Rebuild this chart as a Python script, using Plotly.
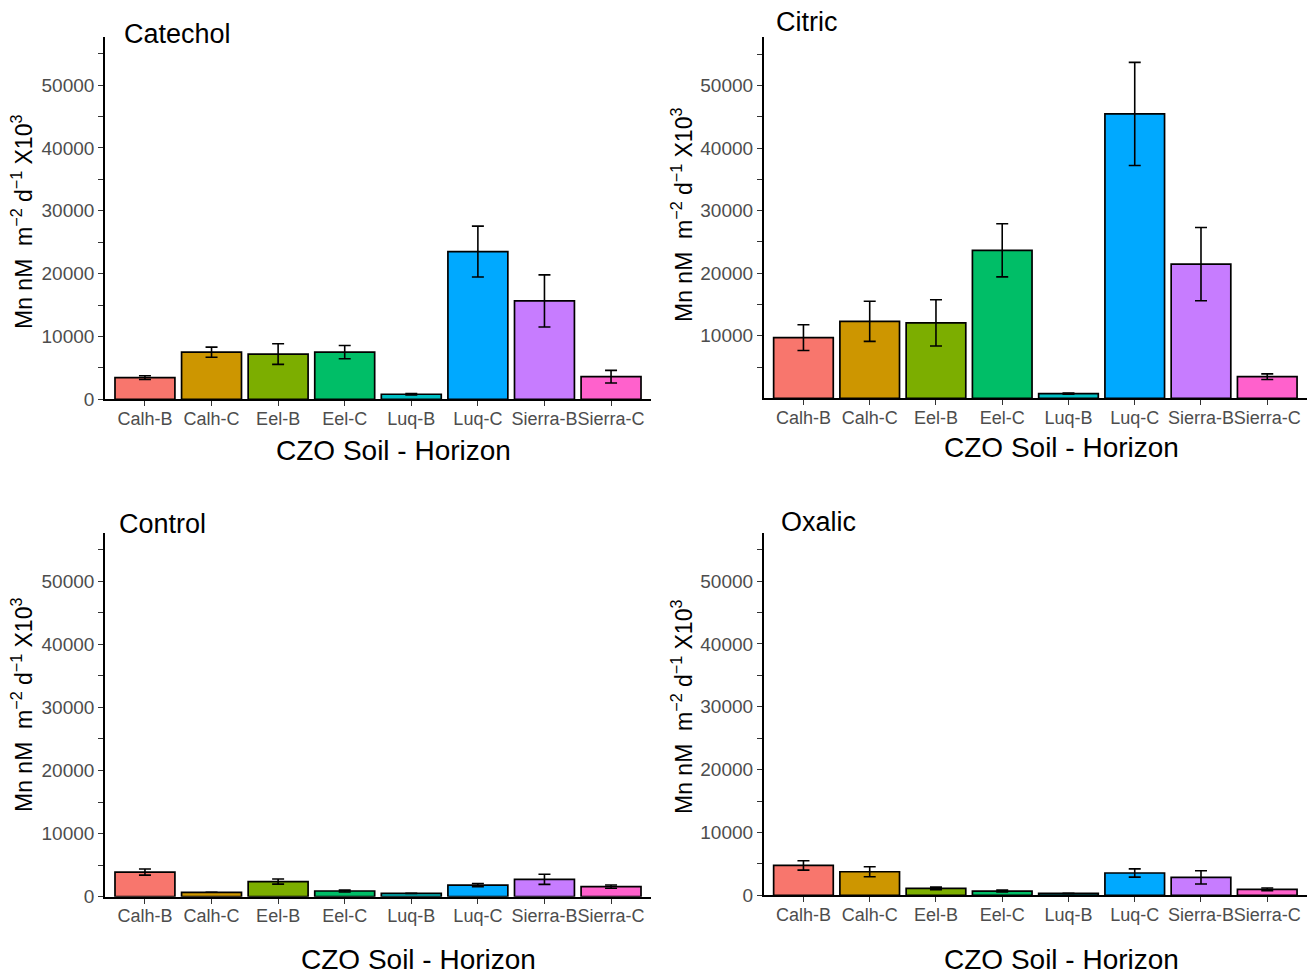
import plotly.graph_objects as go

categories = ["Calh-B", "Calh-C", "Eel-B", "Eel-C", "Luq-B", "Luq-C", "Sierra-B", "Sierra-C"]
colors = ["#F8766D", "#CD9600", "#7CAE00", "#00BE67", "#00BFC4", "#00A9FF", "#C77CFF", "#FF61CC"]

catechol_mean = [3450, 7500, 7200, 7500, 800, 23500, 15650, 3600]
catechol_err = [300, 800, 1650, 1050, 100, 4050, 4150, 1000]

citric_mean = [9700, 12300, 12050, 23650, 750, 45450, 21450, 3450]
citric_err = [2050, 3200, 3700, 4250, 80, 8250, 5850, 450]

control_mean = [3900, 700, 2400, 900, 530, 1850, 2750, 1600]
control_err = [480, 0, 400, 150, 0, 250, 800, 250]

oxalic_mean = [4750, 3750, 1100, 680, 300, 3550, 2850, 950]
oxalic_err = [750, 800, 200, 150, 0, 650, 1050, 220]

panel_titles = ["Catechol", "Citric", "Control", "Oxalic"]
x_title = "CZO Soil - Horizon"
y_title = "Mn nM\u00a0\u00a0m<sup>\u22122</sup> d<sup>\u22121</sup>\u00a0X10<sup>3</sup>"

W, H = 1307, 975
FONT = "Liberation Sans, Arial, sans-serif"

panels = [
    (catechol_mean, catechol_err, (105, 651), (36.7, 399.3), True),
    (citric_mean, citric_err, (763.7, 1307), (37.3, 398.3), False),
    (control_mean, control_err, (105, 651), (532.7, 896.7), True),
    (oxalic_mean, oxalic_err, (763.7, 1307), (532.7, 895.3), True),
]

fig = go.Figure()
for i, (mean, err, (x0, x1), (ytop, ybot), show0) in enumerate(panels):
    n = "" if i == 0 else str(i + 1)
    fig.add_trace(go.Bar(
        x=categories, y=mean,
        marker=dict(color=colors, line=dict(color="black", width=1.7)),
        error_y=dict(type="data", array=err, visible=True, color="black", thickness=1.6, width=6),
        xaxis="x" + n, yaxis="y" + n, showlegend=False, width=0.9,
    ))
    tv = list(range(0 if show0 else 5000, 55001, 5000))
    tt = [str(v) if v % 10000 == 0 else "" for v in tv]
    fig.layout["xaxis" + n] = dict(
        domain=[x0 / W, min(x1 / W, 1)], anchor="y" + n, range=[-0.6, 7.6],
        showline=True, linecolor="black", linewidth=1.6, ticks="outside",
        ticklen=5, tickcolor="#333333", tickwidth=1.4, showgrid=False, zeroline=False,
        tickangle=0, automargin=False, ticklabelstandoff=-3,
        tickfont=dict(family=FONT, size=18, color="#4D4D4D"),
    )
    fig.layout["yaxis" + n] = dict(
        domain=[1 - ybot / H, 1 - ytop / H], anchor="x" + n, range=[0, 57700],
        showline=True, linecolor="black", linewidth=1.6, ticks="outside",
        ticklen=5, tickcolor="#333333", tickwidth=1.4, showgrid=False, zeroline=False,
        tickvals=tv, ticktext=tt, automargin=False,
        tickfont=dict(family=FONT, size=19, color="#4D4D4D"),
    )

ann = []
title_pos = [(122, 34), (774, 22), (117, 524), (779, 522)]
for t, (x, y) in zip(panel_titles, title_pos):
    ann.append(dict(text=t, x=x / W, y=1 - y / H, xref="paper", yref="paper",
                    xanchor="left", yanchor="middle", showarrow=False,
                    font=dict(family=FONT, size=27, color="black")))
xt_pos = [(393.5, 451), (1061.5, 447), (418, 959), (1061.5, 959)]
for (x, y) in xt_pos:
    ann.append(dict(text=x_title, x=x / W, y=1 - y / H, xref="paper", yref="paper",
                    xanchor="center", yanchor="middle", showarrow=False,
                    font=dict(family=FONT, size=28, color="black")))
yt_pos = [(22, 222), (682, 215), (22, 705), (682, 707)]
for (x, y) in yt_pos:
    ann.append(dict(text=y_title, x=x / W, y=1 - y / H, xref="paper", yref="paper",
                    xanchor="center", yanchor="middle", showarrow=False, textangle=-90,
                    font=dict(family=FONT, size=23, color="black")))

fig.update_layout(
    width=W, height=H, margin=dict(l=0, r=0, t=0, b=0),
    paper_bgcolor="white", plot_bgcolor="white",
    annotations=ann, bargap=0.1,
)
fig.write_html("out.html")
